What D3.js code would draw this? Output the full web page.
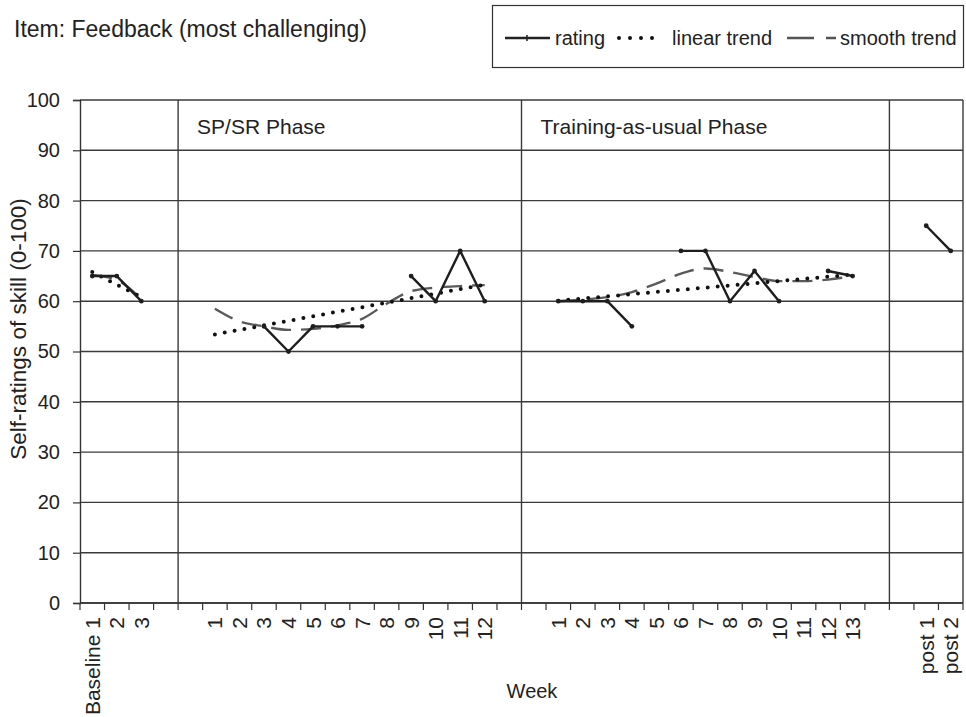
<!DOCTYPE html>
<html>
<head>
<meta charset="utf-8">
<script src="https://cdn.jsdelivr.net/npm/d3@7"></script>
<style>
    body { margin: 0; background: #fff; }
    svg text { font-family: "Liberation Sans", Arial, sans-serif; fill: #222; }
</style>
</head>
<body>
<div id="chart"></div>
<script>
// week labels per phase ("" = empty slot on the axis)
var baselineWeeks = ['Baseline 1', '2', '3', ''];
var spsrWeeks = ['', '1', '2', '3', '4', '5', '6', '7', '8', '9', '10', '11', '12', ''];
var tauWeeks = ['', '1', '2', '3', '4', '5', '6', '7', '8', '9', '10', '11', '12', '13', ''];
var postWeeks = ['', 'post 1', 'post 2'];

var phaseNames = ['', 'SP/SR Phase', 'Training-as-usual Phase', ''];
var yTicks = [0, 10, 20, 30, 40, 50, 60, 70, 80, 90, 100];

// ratings, one per labelled week (null = not rated)
var baselineRating = [65, 65, 60];
var spsrRating = [null, null, 55, 50, 55, 55, 55, null, 65, 60, 70, 60];
var tauRating = [60, 60, 60, 55, null, 70, 70, 60, 66, 60, null, 66, 65];
var postRating = [75, 70];

// linear trend: value at first and last labelled week of the phase
var baselineLinear = [65.8, 60.8];
var spsrLinear = [53.4, 63.3];
var tauLinear = [60.1, 65.3];

// smooth trend, one per labelled week
var baselineSmooth = [65.2, 64.2, 60.4];
var spsrSmooth = [58.5, 56, 55, 54.3, 54.5, 55.2, 56.5, 59.5, 62, 62.7, 63, 63.2];
var tauSmooth = [60, 60.3, 60.8, 61.8, 63.5, 65.5, 66.5, 65.8, 64.8, 64, 64, 64.3, 65];

var W = 966, H = 717;
var grid = {left: 80, right: 963, top: 100, bottom: 603};

var phases = [
    {id: 'b', weeks: baselineWeeks, rating: baselineRating, linear: baselineLinear, smooth: baselineSmooth},
    {id: 's', weeks: spsrWeeks, rating: spsrRating, linear: spsrLinear, smooth: spsrSmooth},
    {id: 't', weeks: tauWeeks, rating: tauRating, linear: tauLinear, smooth: tauSmooth},
    {id: 'p', weeks: postWeeks, rating: postRating, linear: null, smooth: null}
];

// axis keys, labels, and the keys of labelled weeks per phase
var keys = [], labelOf = {};
phases.forEach(function(p, pi){
    p.name = phaseNames[pi];
    p.keys = [];
    p.weeks.forEach(function(w, i){
        var k = p.id + i;
        keys.push(k);
        labelOf[k] = w;
        if (w !== '') p.keys.push(k);
    });
    p.first = p.id + 0;
});

var x = d3.scaleBand().domain(keys).range([grid.left, grid.right]).padding(0);
var y = d3.scaleLinear().domain([0, 100]).range([grid.bottom, grid.top]);
var cx = function(k){ return x(k) + x.bandwidth() / 2; };

var svg = d3.select('#chart').append('svg')
        .attr('width', W)
        .attr('height', H);

// title + legend
svg.append('text')
        .attr('x', 14)
        .attr('y', 37)
        .style('font-size', '23px')
        .text('Item: Feedback (most challenging)');

var legend = svg.append('g');
legend.append('rect')
        .attr('x', 492.5).attr('y', 5.5)
        .attr('width', 471).attr('height', 62)
        .attr('fill', 'none').attr('stroke', '#333').attr('stroke-width', 1.2);
legend.append('line')
        .attr('x1', 505).attr('x2', 550).attr('y1', 38).attr('y2', 38)
        .attr('stroke', '#222').attr('stroke-width', 2.4);
legend.append('line')
        .attr('x1', 527).attr('x2', 527).attr('y1', 35).attr('y2', 41)
        .attr('stroke', '#222').attr('stroke-width', 1.5);
legend.append('text').attr('x', 555).attr('y', 45).style('font-size', '20px').text('rating');
legend.append('line')
        .attr('x1', 619).attr('x2', 663).attr('y1', 38).attr('y2', 38)
        .attr('stroke', '#111').attr('stroke-width', 4)
        .attr('stroke-linecap', 'round').attr('stroke-dasharray', '0,11');
legend.append('text').attr('x', 672).attr('y', 45).style('font-size', '20px').text('linear trend');
legend.append('line')
        .attr('x1', 787).attr('x2', 836).attr('y1', 38).attr('y2', 38)
        .attr('stroke', '#555').attr('stroke-width', 2.4).attr('stroke-dasharray', '27,12');
legend.append('text').attr('x', 840).attr('y', 45).style('font-size', '20px').text('smooth trend');

// grid
var g = svg.append('g');
g.selectAll('.hgrid').data(yTicks).enter().append('line')
        .attr('x1', grid.left).attr('x2', grid.right)
        .attr('y1', function(d){ return y(d); })
        .attr('y2', function(d){ return y(d); })
        .attr('stroke', '#3a3a3a').attr('stroke-width', 1.4);

var bounds = [phases[1].first, phases[2].first, phases[3].first];
g.selectAll('.vline').data(bounds).enter().append('line')
        .attr('x1', function(d){ return x(d); }).attr('x2', function(d){ return x(d); })
        .attr('y1', grid.top).attr('y2', grid.bottom)
        .attr('stroke', '#3a3a3a').attr('stroke-width', 1.4);
g.append('line')
        .attr('x1', grid.right).attr('x2', grid.right)
        .attr('y1', grid.top).attr('y2', grid.bottom)
        .attr('stroke', '#3a3a3a').attr('stroke-width', 1.4);

// y axis
var yAxis = svg.append('g')
        .attr('transform', 'translate(' + grid.left + ',0)')
        .call(d3.axisLeft(y).tickValues(yTicks).tickSize(7).tickPadding(13));
yAxis.select('.domain').attr('stroke', '#333').attr('stroke-width', 1.4);
yAxis.selectAll('.tick line').attr('stroke', '#333').attr('stroke-width', 1.2);
yAxis.selectAll('text').style('font-size', '20px')
        .style('font-family', '"Liberation Sans", Arial, sans-serif').attr('fill', '#222');

// x axis: ticks sit between categories
var xAxis = svg.append('g').attr('transform', 'translate(0,' + grid.bottom + ')');
var tickPos = keys.map(function(k){ return x(k); }).concat([grid.right]);
xAxis.append('line')
        .attr('x1', grid.left).attr('x2', grid.right).attr('y1', 0).attr('y2', 0)
        .attr('stroke', '#333').attr('stroke-width', 1.4);
xAxis.selectAll('.xt').data(tickPos).enter().append('line')
        .attr('x1', function(d){ return d; }).attr('x2', function(d){ return d; })
        .attr('y1', 0).attr('y2', 7)
        .attr('stroke', '#333').attr('stroke-width', 1.2);
xAxis.selectAll('.xl').data(keys.filter(function(k){ return labelOf[k] !== ''; })).enter().append('text')
        .attr('transform', function(k){ return 'translate(' + (cx(k) + 7.5) + ',14)rotate(-90)'; })
        .attr('text-anchor', 'end')
        .style('font-size', '21px')
        .text(function(k){ return labelOf[k]; });

// axis titles
svg.append('text')
        .attr('text-anchor', 'middle')
        .attr('transform', 'translate(26,329)rotate(-90)')
        .style('font-size', '22.5px')
        .text('Self-ratings of skill (0-100)');
svg.append('text')
        .attr('x', 532).attr('y', 698)
        .attr('text-anchor', 'middle')
        .style('font-size', '20px')
        .text('Week');

// phase names
phases.forEach(function(p){
    if (!p.name) return;
    svg.append('text')
            .attr('x', x(p.first) + 19).attr('y', 134)
            .style('font-size', '21px')
            .text(p.name);
});

// series
var plot = svg.append('g');
var line = d3.line()
        .defined(function(d){ return d.v !== null; })
        .x(function(d){ return cx(d.k); })
        .y(function(d){ return y(d.v); });

phases.forEach(function(p){
    if (p.smooth) {
        var sm = p.keys.map(function(k, i){ return {k: k, v: p.smooth[i]}; });
        plot.append('path')
                .attr('d', d3.line().curve(d3.curveMonotoneX).x(function(d){ return cx(d.k); }).y(function(d){ return y(d.v); })(sm))
                .attr('fill', 'none').attr('stroke', '#5a5a5a')
                .attr('stroke-width', 2.4).attr('stroke-dasharray', '20,10');
    }
    if (p.linear) {
        var lin = [{k: p.keys[0], v: p.linear[0]}, {k: p.keys[p.keys.length - 1], v: p.linear[1]}];
        plot.append('path')
                .attr('d', line(lin))
                .attr('fill', 'none').attr('stroke', '#111')
                .attr('stroke-width', 4).attr('stroke-linecap', 'round')
                .attr('stroke-dasharray', '0,10');
    }
    var pts = p.keys.map(function(k, i){ return {k: k, v: p.rating[i]}; });
    plot.append('path')
            .attr('d', line(pts))
            .attr('fill', 'none').attr('stroke', '#1e1e1e')
            .attr('stroke-width', 2.4).attr('stroke-linejoin', 'round');
    plot.selectAll('.pt-' + p.id).data(pts.filter(function(d){ return d.v !== null; })).enter().append('circle')
            .attr('cx', function(d){ return cx(d.k); })
            .attr('cy', function(d){ return y(d.v); })
            .attr('r', 2.4)
            .attr('fill', '#1e1e1e');
});
</script>
</body>
</html>
